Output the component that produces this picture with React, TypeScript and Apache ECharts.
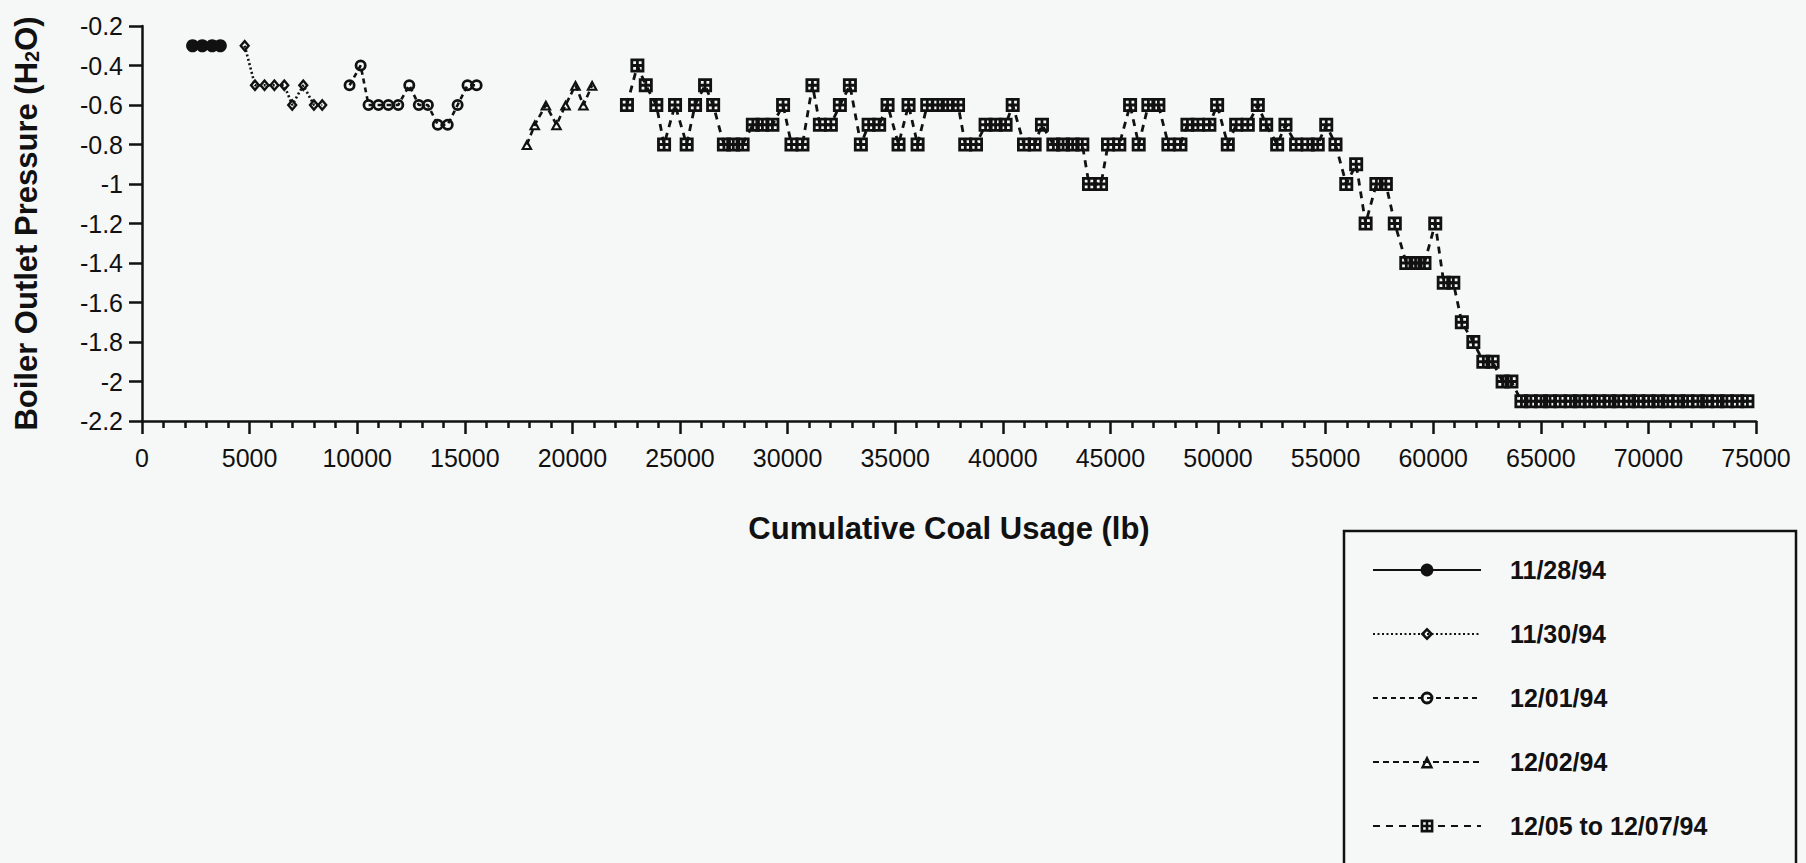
import React, { useEffect, useRef } from "react";
import * as echarts from "echarts";

// ---------- data ----------
const SERIES_NAMES = ["11/28/94", "11/30/94", "12/01/94", "12/02/94", "12/05 to 12/07/94"];

const S1_X = [2350, 2800, 3260, 3640];
const S1_Y = [-0.3, -0.3, -0.3, -0.3];

const S2_X = [4772, 5250, 5693, 6152, 6612, 6980, 7494, 7990, 8375];
const S2_Y = [-0.3, -0.5, -0.5, -0.5, -0.5, -0.6, -0.5, -0.6, -0.6];

const S3_X = [9645, 10160, 10527, 10988, 11448, 11908, 12420, 12862, 13285, 13745, 14206, 14666, 15127, 15550];
const S3_Y = [-0.5, -0.4, -0.6, -0.6, -0.6, -0.6, -0.5, -0.6, -0.6, -0.7, -0.7, -0.6, -0.5, -0.5];

const S4_X = [17884, 18251, 18767, 19260, 19683, 20144, 20511, 20916];
const S4_Y = [-0.8, -0.7, -0.6, -0.7, -0.6, -0.5, -0.6, -0.5];

const S5_X = [
  22535, 23020, 23410, 23900, 24260, 24770, 25310, 25700, 26165, 26540,
  27040, 27475, 27910, 28385, 28830, 29295, 29790, 30180, 30690, 31155,
  31500, 32010, 32430, 32895, 33405, 33765, 34255, 34645, 35155, 35620,
  36040, 36490, 36980, 37440, 37920, 38255, 38755, 39200, 39665, 40130,
  40460, 40985, 41480, 41820, 42350, 42800, 43245, 43695, 44005, 44565,
  44890, 45415, 45915, 46315, 46765, 47230, 47695, 48255, 48580, 49065,
  49600, 49960, 50455, 50845, 51385, 51850, 52240, 52750, 53135, 53630,
  54170, 54635, 55030, 55460, 55960, 56420, 56860, 57360, 57800, 58215,
  58750, 59180, 59595, 60095, 60490, 60935, 61330, 61865, 62330, 62760,
  63225, 63635, 64100, 64540, 65010, 65430, 65900, 66380, 66810, 67270,
  67720, 68190, 68620, 69100, 69540, 70010, 70460, 70900, 71380, 71820,
  72300, 72730, 73210, 73650, 74130, 74600,
];
const S5_Y = [
  -0.6, -0.4, -0.5, -0.6, -0.8, -0.6, -0.8, -0.6, -0.5, -0.6,
  -0.8, -0.8, -0.8, -0.7, -0.7, -0.7, -0.6, -0.8, -0.8, -0.5,
  -0.7, -0.7, -0.6, -0.5, -0.8, -0.7, -0.7, -0.6, -0.8, -0.6,
  -0.8, -0.6, -0.6, -0.6, -0.6, -0.8, -0.8, -0.7, -0.7, -0.7,
  -0.6, -0.8, -0.8, -0.7, -0.8, -0.8, -0.8, -0.8, -1.0, -1.0,
  -0.8, -0.8, -0.6, -0.8, -0.6, -0.6, -0.8, -0.8, -0.7, -0.7,
  -0.7, -0.6, -0.8, -0.7, -0.7, -0.6, -0.7, -0.8, -0.7, -0.8,
  -0.8, -0.8, -0.7, -0.8, -1.0, -0.9, -1.2, -1.0, -1.0, -1.2,
  -1.4, -1.4, -1.4, -1.2, -1.5, -1.5, -1.7, -1.8, -1.9, -1.9,
  -2.0, -2.0, -2.1, -2.1, -2.1, -2.1, -2.1, -2.1, -2.1, -2.1,
  -2.1, -2.1, -2.1, -2.1, -2.1, -2.1, -2.1, -2.1, -2.1, -2.1,
  -2.1, -2.1, -2.1, -2.1, -2.1, -2.1,
];

const X_MIN = 0;
const X_MAX = 75000;
const X_STEP = 5000;
const Y_MIN = -2.2;
const Y_MAX = -0.2;
const Y_STEP = 0.2;

// ---------- styling ----------
const INK = "#111111";
const BG = "#f6f8f7";
const FONT = "'Liberation Sans', Arial, Helvetica, sans-serif";

const SYM_SQUARE_CROSS = "path://M0,0H10V10H0Z M2,2V4H4V2Z M6,2V4H8V2Z M2,6V8H4V6Z M6,6V8H8V6Z";
const SYM_OPEN_CIRCLE = "path://M5,0A5,5 0 1 1 5,10A5,5 0 1 1 5,0Z M5,2.3A2.7,2.7 0 1 0 5,7.7A2.7,2.7 0 1 0 5,2.3Z";
const SYM_OPEN_DIAMOND = "path://M5,0L10,6L5,12L0,6Z M5,3.4L2.8,6L5,8.6L7.2,6Z";
const SYM_OPEN_TRIANGLE = "path://M5,0L10,9L0,9Z M5,3.9L2.9,7.4L7.1,7.4Z";

const pair = (xs: number[], ys: number[]) => xs.map((x, i) => [x, ys[i]]);

export default function App() {
  const ref = useRef<HTMLDivElement>(null);

  useEffect(() => {
    if (!ref.current) return;
    const chart = echarts.init(ref.current, undefined, { renderer: "svg" });

    const mk = (
      idx: number,
      xs: number[],
      ys: number[],
      symbol: string,
      size: number | number[],
      lineType: any,
      lineWidth: number
    ) => ({
      name: SERIES_NAMES[idx],
      type: "line",
      data: pair(xs, ys),
      symbol,
      symbolSize: size,
      showAllSymbol: true,
      itemStyle: { color: INK, borderWidth: 0 },
      lineStyle: { color: INK, width: lineWidth, type: lineType },
      emphasis: { disabled: true },
      z: 2 + idx,
    });

    chart.setOption({
      animation: false,
      backgroundColor: BG,
      textStyle: { fontFamily: FONT, color: INK },
      grid: { left: 142, right: 50, top: 26, bottom: 442, containLabel: false },
      xAxis: {
        type: "value",
        min: X_MIN,
        max: X_MAX,
        interval: X_STEP,
        name: "Cumulative Coal Usage (lb)",
        nameLocation: "middle",
        nameGap: 92,
        nameTextStyle: { fontSize: 31, fontWeight: "bold", color: INK, fontFamily: FONT },
        axisLine: { show: true, onZero: false, lineStyle: { color: INK, width: 2.5 } },
        axisTick: { show: true, inside: false, length: 13, lineStyle: { color: INK, width: 2.5 } },
        minorTick: { show: true, splitNumber: 5, length: 7, lineStyle: { color: INK, width: 2.5 } },
        axisLabel: {
          fontSize: 25,
          color: INK,
          margin: 24,
          fontFamily: FONT,
          formatter: (v: number) => String(Math.round(v)),
        },
        splitLine: { show: false },
        minorSplitLine: { show: false },
      },
      yAxis: {
        type: "value",
        min: Y_MIN,
        max: Y_MAX,
        interval: Y_STEP,
        name: "{t|Boiler Outlet Pressure (H}{s|2}{t|O)}",
        nameLocation: "middle",
        nameRotate: 90,
        nameGap: 100,
        nameTextStyle: {
          color: INK,
          rich: {
            t: { fontSize: 31, fontWeight: "bold", color: INK, fontFamily: FONT },
            s: { fontSize: 20, fontWeight: "bold", color: INK, fontFamily: FONT, verticalAlign: "bottom", padding: [12, 0, 0, 0] },
          },
        },
        axisLine: { show: true, onZero: false, lineStyle: { color: INK, width: 2.5 } },
        axisTick: { show: true, inside: false, length: 13, lineStyle: { color: INK, width: 2.5 } },
        axisLabel: {
          fontSize: 25,
          color: INK,
          margin: 19,
          fontFamily: FONT,
          formatter: (v: number) => String(Math.round(v * 10) / 10),
        },
        splitLine: { show: false },
      },
      legend: {
        show: true,
        orient: "vertical",
        left: 1367,
        top: 551,
        itemWidth: 108,
        itemHeight: 16,
        itemGap: 36,
        selectedMode: false,
        textStyle: { fontSize: 25, fontWeight: "bold", color: INK, fontFamily: FONT, lineHeight: 28, padding: [0, 0, 0, 24] },
        data: SERIES_NAMES,
      },
      graphic: [
        {
          type: "rect",
          shape: { x: 1344, y: 531, width: 452, height: 345 },
          style: { fill: "none", stroke: INK, lineWidth: 2.5 },
          silent: true,
        },
      ],
      series: [
        mk(0, S1_X, S1_Y, "circle", 13, "solid", 2.8),
        mk(1, S2_X, S2_Y, SYM_OPEN_DIAMOND, [11, 13], [2, 2.5], 2.6),
        mk(2, S3_X, S3_Y, SYM_OPEN_CIRCLE, 12, [5, 4], 2.6),
        mk(3, S4_X, S4_Y, SYM_OPEN_TRIANGLE, [12, 11], [6, 4], 2.6),
        mk(4, S5_X, S5_Y, SYM_SQUARE_CROSS, 14, [7, 6], 2.8),
      ],
    });

    return () => chart.dispose();
  }, []);

  return (
    <div
      ref={ref}
      style={{ position: "fixed", left: 0, top: 0, width: 1806, height: 863, background: BG }}
    />
  );
}
